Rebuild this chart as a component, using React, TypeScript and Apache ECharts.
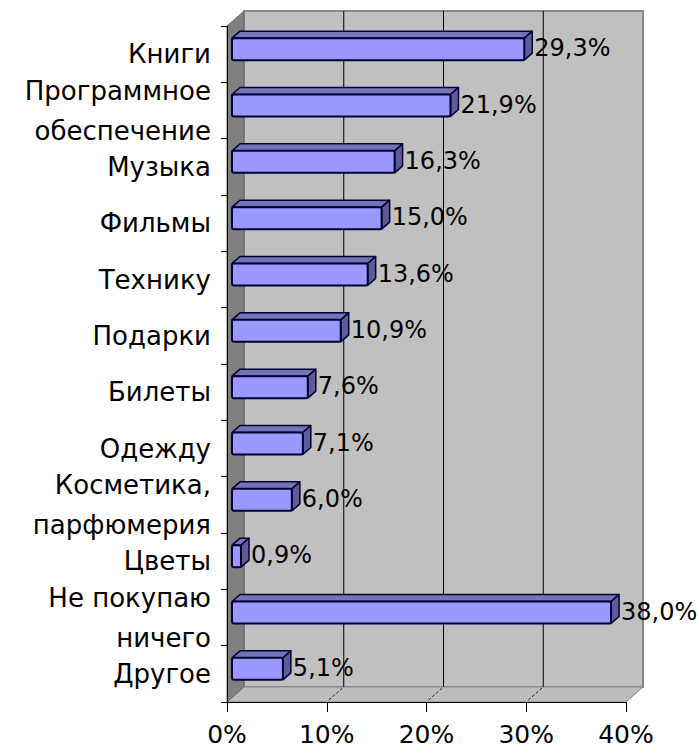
import React, { useEffect, useRef } from "react";
import * as echarts from "echarts";

const categories = [
  "Книги",
  "Программное\nобеспечение",
  "Музыка",
  "Фильмы",
  "Технику",
  "Подарки",
  "Билеты",
  "Одежду",
  "Косметика,\nпарфюмерия",
  "Цветы",
  "Не покупаю\nничего",
  "Другое",
];
const values = [29.3, 21.9, 16.3, 15.0, 13.6, 10.9, 7.6, 7.1, 6.0, 0.9, 38.0, 5.1];
const axisMax = 40;
const axisStep = 10;
const backGridValues = [10, 20, 30];

const FONT = "DejaVu Sans";
const DX = 17;
const DY = -15;
const BX = 8;
const BY = -7;

export default function App() {
  const ref = useRef<HTMLDivElement>(null);
  useEffect(() => {
    if (!ref.current) return;
    const chart = echarts.init(ref.current, undefined, { renderer: "svg" });
    const option: any = {
      animation: false,
      backgroundColor: "#ffffff",
      grid: { left: 227, right: 72, top: 26, bottom: 46, containLabel: false },
      xAxis: {
        type: "value",
        min: 0,
        max: axisMax,
        interval: axisStep,
        z: 10,
        axisLine: { show: true, lineStyle: { color: "#000", width: 1 } },
        axisTick: { show: true, length: 10, lineStyle: { color: "#000", width: 1 } },
        splitLine: { show: false },
        axisLabel: {
          formatter: "{value}%",
          fontSize: 25,
          fontFamily: FONT,
          color: "#000",
          margin: 20,
          showMinLabel: true,
          showMaxLabel: true,
          hideOverlap: false,
        },
      },
      yAxis: {
        type: "category",
        data: categories,
        inverse: true,
        z: 10,
        axisLine: { show: true, lineStyle: { color: "#000", width: 1 } },
        axisTick: { show: true, length: 6, alignWithLabel: false, interval: 0, lineStyle: { color: "#000" } },
        splitLine: { show: false },
        axisLabel: {
          interval: 0,
          showMinLabel: true,
          showMaxLabel: true,
          hideOverlap: false,
          fontSize: 26,
          lineHeight: 40,
          fontFamily: FONT,
          color: "#000",
          margin: 16,
        },
      },
      series: [
        {
          type: "custom",
          z: 1,
          silent: true,
          data: [[0, 0]],
          encode: { x: 0, y: 1 },
          renderItem: (params: any, api: any) => {
            const cs = params.coordSys;
            const x0 = cs.x;
            const x1 = cs.x + cs.width;
            const y0 = cs.y;
            const y1 = cs.y + cs.height;
            const children: any[] = [];
            children.push({
              type: "rect",
              shape: { x: x0 + DX, y: y0 + DY, width: x1 - x0, height: y1 - y0 },
              style: { fill: "#c0c0c0", stroke: "#888888", lineWidth: 2 },
            });
            children.push({
              type: "polygon",
              shape: { points: [[x0, y1], [x0 + DX, y1 + DY], [x1 + DX, y1 + DY], [x1, y1]] },
              style: { fill: "#bcbcbc", stroke: "#8a8a8a", lineWidth: 1 },
            });
            children.push({
              type: "polygon",
              shape: { points: [[x0, y0], [x0 + DX, y0 + DY], [x0 + DX, y1 + DY], [x0, y1]] },
              style: { fill: "#808080", stroke: "#6a6a6a", lineWidth: 1 },
            });
            backGridValues.forEach((v) => {
              const px = api.coord([v, 0])[0];
              children.push({
                type: "line",
                shape: { x1: px + DX, y1: y0 + DY, x2: px + DX, y2: y1 + DY },
                style: { stroke: "#000", lineWidth: 1 },
              });
              children.push({
                type: "line",
                shape: { x1: px + 2, y1: y1 - 2, x2: px + DX, y2: y1 + DY },
                style: { stroke: "#222", lineWidth: 1, lineDash: [3, 2] },
              });
            });
            return { type: "group", children };
          },
        },
        {
          type: "custom",
          z: 3,
          data: values.map((v, i) => [v, i]),
          encode: { x: 0, y: 1 },
          renderItem: (params: any, api: any) => {
            const v = api.value(0);
            const idx = api.value(1);
            const p0 = api.coord([0, idx]);
            const p1 = api.coord([v, idx]);
            const band = api.size([0, 1])[1];
            const c = p0[1] - 5;
            const h = band * 0.39;
            const xa = p0[0] + 5;
            const xb = p1[0] + 5;
            const yt = c - h / 2;
            const yb = c + h / 2;
            const stroke = "#000033";
            const label = v.toFixed(1).replace(".", ",") + "%";
            return {
              type: "group",
              children: [
                {
                  type: "polygon",
                  shape: { points: [[xa, yt], [xa + BX, yt + BY], [xb + BX, yt + BY], [xb, yt]] },
                  style: { fill: "#7474b8", stroke, lineWidth: 1.5, lineJoin: "round" },
                },
                {
                  type: "polygon",
                  shape: { points: [[xb, yt], [xb + BX, yt + BY], [xb + BX, yb + BY], [xb, yb]] },
                  style: { fill: "#5c5c99", stroke, lineWidth: 1.5, lineJoin: "round" },
                },
                {
                  type: "rect",
                  shape: { x: xa, y: yt, width: xb - xa, height: yb - yt, r: 2 },
                  style: { fill: "#9999ff", stroke, lineWidth: 2 },
                },
                {
                  type: "text",
                  x: xb + BX + 2,
                  y: c - 1,
                  style: {
                    text: label,
                    fill: "#000",
                    fontSize: 24,
                    fontFamily: FONT,
                    align: "left",
                    verticalAlign: "middle",
                  },
                },
              ],
            };
          },
        },
      ],
    };
    chart.setOption(option);
    return () => chart.dispose();
  }, []);
  return (
    <div
      ref={ref}
      style={{ position: "fixed", left: 0, top: 0, width: 698, height: 748, background: "#fff" }}
    />
  );
}
